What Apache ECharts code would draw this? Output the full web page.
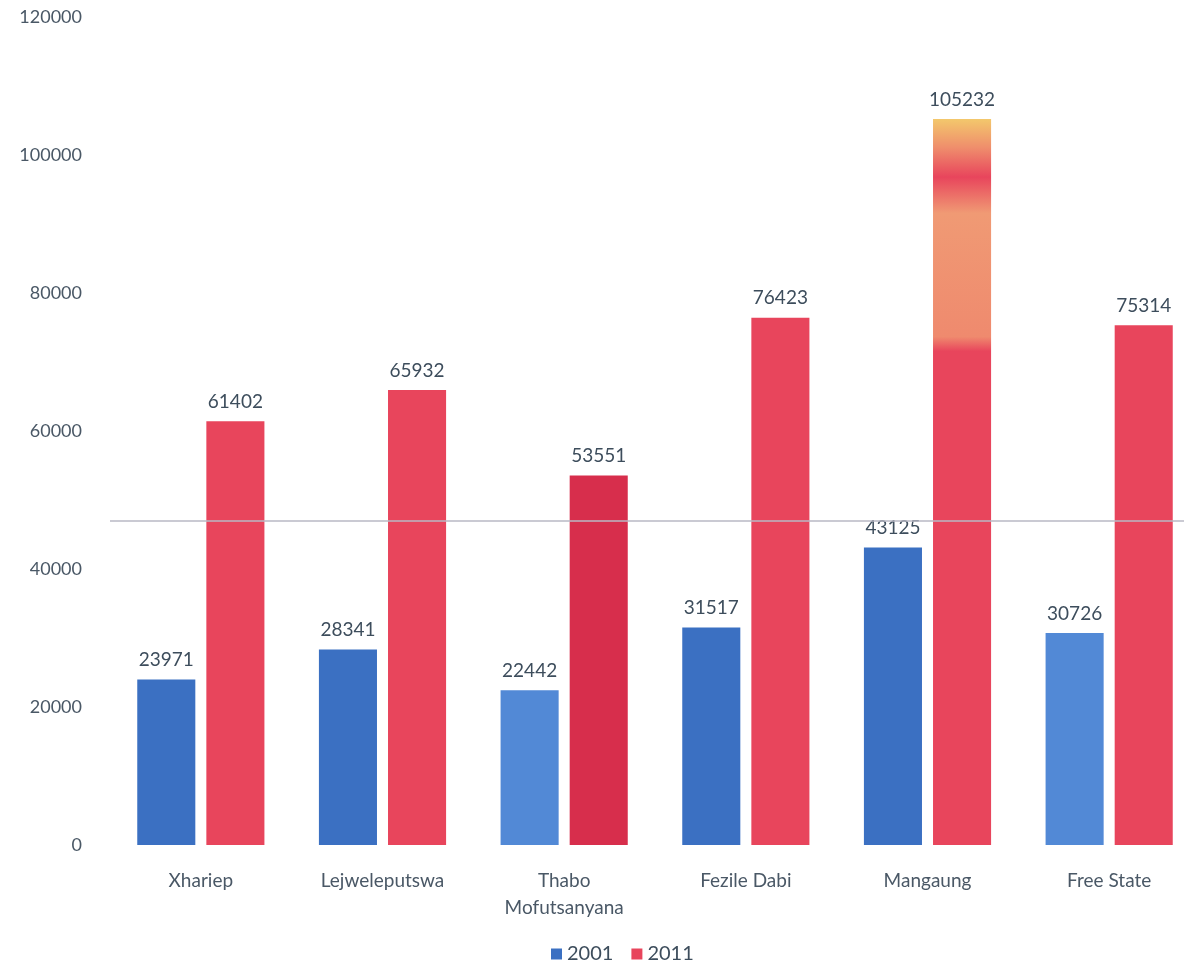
<!DOCTYPE html>
<html>
<head>
<meta charset="utf-8">
<script src="https://cdn.jsdelivr.net/npm/echarts@6/dist/echarts.min.js"></script>
<style>
  html, body { margin: 0; padding: 0; background: #ffffff; overflow: hidden; }
  #chart { width: 1204px; height: 973px; }
</style>
</head>
<body>
<div id="chart"></div>
<script>
// District names (Free State province) and household counts per census year
const districts = ['Xhariep', 'Lejweleputswa', 'Thabo\nMofutsanyana', 'Fezile Dabi', 'Mangaung', 'Free State'];
const values2001 = [23971, 28341, 22442, 31517, 43125, 30726];
const values2011 = [61402, 65932, 53551, 76423, 105232, 75314];
const yTicks = { min: 0, max: 120000, step: 20000 };
const refLine = 47000;

const blue = '#3b70c2';
const red = '#e8455c';
const labelColor = '#3d4d5c';

// Per-bar fills for the 2011 series
const red2011 = values2011.map((v, i) => {
  if (i === 2) return { value: v, itemStyle: { color: '#d72e4c' } };
  if (i === 4) return {
    value: v,
    itemStyle: {
      color: new echarts.graphic.LinearGradient(0, 0, 0, 1, [
        { offset: 0, color: '#f3c86c' },
        { offset: 0.04, color: '#ef8d6c' },
        { offset: 0.08, color: '#e8455c' },
        { offset: 0.13, color: '#f09a74' },
        { offset: 0.3, color: '#ef8a6e' },
        { offset: 0.32, color: '#e8455c' },
        { offset: 1, color: '#e8455c' }
      ])
    }
  };
  return { value: v };
});
const blue2001 = values2001.map((v, i) => {
  if (i === 2 || i === 5) return { value: v, itemStyle: { color: '#5289d6' } };
  return { value: v };
});

const chart = echarts.init(document.getElementById('chart'));
chart.setOption({
  backgroundColor: '#ffffff',
  animation: false,
  textStyle: { fontFamily: 'Lato, "Open Sans", sans-serif' },
  grid: { left: 110, top: 17, width: 1090, height: 828 },
  legend: {
    bottom: 4,
    left: 546,
    icon: 'rect',
    itemWidth: 11,
    itemHeight: 11,
    itemGap: 18,
    textStyle: { color: labelColor, fontSize: 20 },
    data: ['2001', '2011']
  },
  xAxis: {
    type: 'category',
    data: districts,
    axisLine: { show: false },
    axisTick: { show: false },
    axisLabel: { color: '#4a5866', fontSize: 19, margin: 22, lineHeight: 27 }
  },
  yAxis: {
    type: 'value',
    min: yTicks.min,
    max: yTicks.max,
    interval: yTicks.step,
    axisLine: { show: false },
    axisTick: { show: false },
    splitLine: { show: false },
    axisLabel: { color: '#4a5866', fontSize: 18, margin: 28, formatter: (v) => String(v) }
  },
  series: [
    {
      name: '2001',
      type: 'bar',
      data: blue2001,
      itemStyle: { color: blue },
      barGap: '19%',
      barCategoryGap: '30%',
      label: { show: true, position: 'top', distance: 10, color: labelColor, fontSize: 19 },
      markLine: {
        silent: true,
        symbol: 'none',
        label: { show: false },
        lineStyle: { color: '#b9b9c4', width: 1.5, type: 'solid' },
        data: [{ yAxis: refLine }]
      }
    },
    {
      name: '2011',
      type: 'bar',
      data: red2011,
      itemStyle: { color: red },
      label: { show: true, position: 'top', distance: 10, color: labelColor, fontSize: 19 }
    }
  ]
});
</script>
</body>
</html>
